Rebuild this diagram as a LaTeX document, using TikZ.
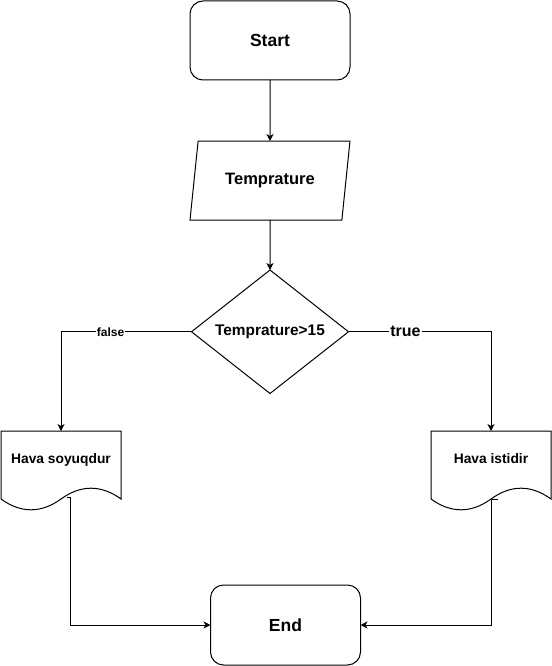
\documentclass[tikz,border=0pt]{standalone}
\usepackage{fontspec}
\setmainfont{Liberation Sans}
\usepackage{tikz}
\usetikzlibrary{arrows.meta,positioning,shapes.geometric}

% wavy bottom of a document box
\newcommand\wavedoc[1]{%
  \draw (#1.north west) -- (#1.north east) -- ([yshift=12pt]#1.south east)
    .. controls ([xshift=-20pt,yshift=26.4pt]#1.south east) and ([xshift=20pt,yshift=26.4pt]#1.south)
    .. ([yshift=12pt]#1.south)
    .. controls ([xshift=-20pt,yshift=-2.4pt]#1.south) and ([xshift=20pt,yshift=-2.4pt]#1.south west)
    .. ([yshift=12pt]#1.south west) -- cycle;}

\begin{document}
\begin{tikzpicture}[
      x=1pt, y=-1pt,
      line width=1pt,
      every node/.style={outer sep=0pt},
      term/.style={
        draw, rounded corners=13pt, align=center,
        minimum width=160pt, minimum height=79pt,
        font=\fontsize{17.5}{21}\selectfont\bfseries},
      io/.style={draw, trapezium, trapezium left angle=75.8,
        trapezium right angle=104.2, trapezium stretches=true,
        minimum width=160pt, minimum height=79pt,
        font=\fontsize{16.5}{20}\selectfont\bfseries},
      decision/.style={draw, diamond, inner sep=0pt,
        minimum width=157pt, minimum height=120pt,
        font=\fontsize{15.4}{18}\selectfont\bfseries},
      doc/.style={minimum width=120pt, minimum height=80pt,
        text height=10pt, text depth=26pt,
        font=\fontsize{13.8}{16}\selectfont\bfseries},
      lbl/.style={fill=white, inner sep=1pt},
      arr/.style={-{Stealth[length=7pt,width=7pt,inset=2pt]}},
    ]
    \useasboundingbox (0,0) rectangle (551,666);

    \node[term] (start) at (270,40.5) {Start};
    \node[io, below=61pt of start] (temp) {Temprature};
    \node[decision, below=50pt of temp] (cond) {Temprature>15};
    \node[doc] (cold) at (61,471) {Hava soyuqdur};
    \node[doc] (hot) at (491,471) {Hava istidir};
    \node[term, minimum width=150pt, minimum height=80pt] (finish) at (285.5,625) {End};
    \wavedoc{cold}
    \wavedoc{hot}

    \draw[arr] (start) -- (temp);
    \draw[arr] (temp) -- (cond);
    \draw[arr] (cond.west) -| node[lbl, pos=0.31, font=\fontsize{12}{14}\selectfont\bfseries] {false} (cold.north);
    \draw[arr] (cond.east) -| node[lbl, pos=0.2, font=\fontsize{16}{19}\selectfont\bfseries] {true} (hot.north);

    % exits from the wavy edges
    \coordinate (coldout) at ([xshift=6pt,yshift=14pt]cold.south);
    \coordinate (hotout) at ([xshift=7pt,yshift=12pt]hot.south);
    \draw[arr] (coldout) -- ++(3,0) |- (finish.west);
    \draw[arr] (hotout) -- ++(-7,0) |- (finish.east);
  \end{tikzpicture}
\end{document}
